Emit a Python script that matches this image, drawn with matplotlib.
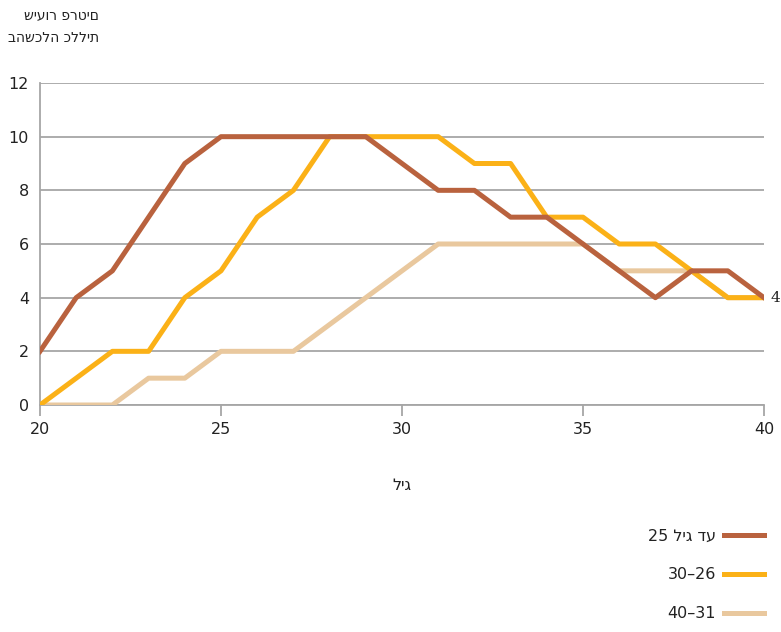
import matplotlib
matplotlib.use("Agg")
import matplotlib.pyplot as plt

# === data ===
ages = list(range(20, 41))
upto_25 = [2, 4, 5, 7, 9, 10, 10, 10, 10, 10, 9, 8, 8, 7, 7, 6, 5, 4, 5, 5, 4]
age_26_30 = [0, 1, 2, 2, 4, 5, 7, 8, 10, 10, 10, 10, 9, 9, 7, 7, 6, 6, 5, 4, 4]
age_31_40 = [0, 0, 0, 1, 1, 2, 2, 2, 3, 4, 5, 6, 6, 6, 6, 6, 5, 5, 5, 4, 4]

# labels as they appear left-to-right in the picture
labels = ["25 ליג דע", "30–26", "40–31"]
colors = ["#B9623E", "#FBB117", "#E9C89E"]
y_title = "שיעור פרטים\nבהשכלה כללית"
x_title = "ליג"
y_ticks = [0, 2, 4, 6, 8, 10, 12]
x_ticks = [20, 25, 30, 35, 40]

plt.rcParams['font.family'] = ['DejaVu Sans']
plt.rcParams['font.size'] = 11.5

fig = plt.figure(figsize=(7.81, 6.32), dpi=100)
ax = fig.add_axes([40 / 781, 1 - 405 / 632, 724 / 781, 322 / 632])

grid_c = "#A6A6A6"
txt_c = "#222222"

# beige first, brown on top
ax.plot(ages, age_31_40, color=colors[2], lw=3.6, label=labels[2], zorder=3)
ax.plot(ages, age_26_30, color=colors[1], lw=3.6, label=labels[1], zorder=4)
ax.plot(ages, upto_25, color=colors[0], lw=3.6, label=labels[0], zorder=5)

ax.annotate(str(upto_25[-1]), (ages[-1], upto_25[-1]), xytext=(5, 0),
            textcoords='offset points', va='center', ha='left', fontsize=11,
            family='DejaVu Serif', color=txt_c, annotation_clip=False)

ax.set_xlim(20, 40)
ax.set_ylim(0, 12)
ax.set_xticks(x_ticks)
ax.set_yticks(y_ticks)
ax.yaxis.grid(True, color=grid_c, lw=1.3)
ax.set_axisbelow(True)
for s in ['top', 'right']:
    ax.spines[s].set_visible(False)
for s in ['left', 'bottom']:
    ax.spines[s].set_color(grid_c)
    ax.spines[s].set_linewidth(1.3)
ax.tick_params(axis='x', direction='out', length=8, width=1.3, color=grid_c,
               pad=4, labelcolor=txt_c)
ax.tick_params(axis='y', length=0, pad=8, labelcolor=txt_c)

ax.set_xlabel(x_title, labelpad=30, color=txt_c)
fig.text(99 / 781, 1 - 8 / 632, y_title, ha='right', va='top', fontsize=10,
         multialignment='right', linespacing=1.85, color=txt_c)

# legend order: brown, orange, beige
handles, labs = ax.get_legend_handles_labels()
order = [2, 1, 0]
leg = fig.legend([handles[i] for i in order], [labs[i] for i in order],
                 loc='upper right', bbox_to_anchor=(770 / 781, 1 - 522 / 632),
                 markerfirst=False, frameon=False, handlelength=2.5,
                 labelspacing=1.5, handletextpad=0.5, borderaxespad=0)
for t in leg.get_texts():
    t.set_color(txt_c)

plt.savefig("out.png", dpi=100)
